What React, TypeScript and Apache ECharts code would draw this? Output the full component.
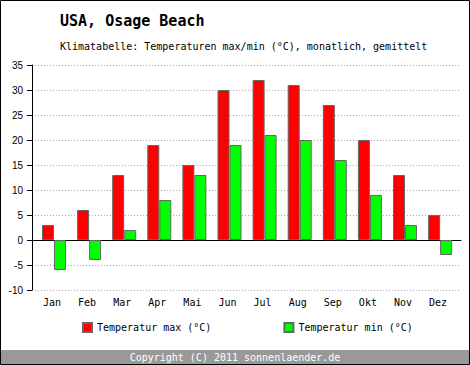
import React, { useEffect, useRef } from 'react';
import * as echarts from 'echarts';

const months = ['Jan', 'Feb', 'Mar', 'Apr', 'Mai', 'Jun', 'Jul', 'Aug', 'Sep', 'Okt', 'Nov', 'Dez'];
const tempMax = [3, 6, 13, 19, 15, 30, 32, 31, 27, 20, 13, 5];
const tempMin = [-6, -4, 2, 8, 13, 19, 21, 20, 16, 9, 3, -3];
const yMin = -10;
const yMax = 35;
const yInterval = 5;

const MONO = "'DejaVu Sans Mono', 'Liberation Mono', monospace";
const SANS = "'Liberation Sans', Arial, sans-serif";

export default function App() {
  const ref = useRef<HTMLDivElement>(null);

  useEffect(() => {
    if (!ref.current) return;
    const chart = echarts.init(ref.current, null, { renderer: 'svg' });
    const option: any = {
      animation: false,
      backgroundColor: '#ffffff',
      title: [
        {
          text: 'USA, Osage Beach',
          left: 60,
          top: 13,
          padding: 0,
          textStyle: { fontFamily: MONO, fontSize: 15, fontWeight: 'bold', color: '#000' },
        },
        {
          text: 'Klimatabelle: Temperaturen max/min (°C), monatlich, gemittelt',
          left: 60,
          top: 41,
          padding: 0,
          textStyle: { fontFamily: MONO, fontSize: 10, fontWeight: 'normal', color: '#000' },
        },
      ],
      legend: {
        left: 82,
        top: 322,
        padding: 0,
        itemWidth: 9,
        itemHeight: 9,
        itemGap: 72,
        icon: 'rect',
        textStyle: { fontFamily: MONO, fontSize: 10, color: '#000' },
        data: ['Temperatur max (°C)', 'Temperatur min (°C)'],
      },
      grid: [
        { left: 32, top: 65, width: 429, height: 225, containLabel: false },
        { left: 36.45, top: 65, width: 421.2, height: 225, containLabel: false },
      ],
      xAxis: [
        {
          type: 'category',
          gridIndex: 0,
          data: months,
          axisLine: { show: true, onZero: true, lineStyle: { color: '#000', width: 1 } },
          axisTick: { show: false },
          axisLabel: { show: false },
          splitLine: { show: false },
        },
        {
          type: 'category',
          gridIndex: 1,
          data: months,
          axisLine: { show: false },
          axisTick: { show: false },
          axisLabel: {
            show: true,
            margin: 7,
            fontFamily: MONO,
            fontSize: 10,
            color: '#000',
            padding: [0, 4, 0, 0],
          },
          splitLine: { show: false },
        },
      ],
      yAxis: [
        {
          type: 'value',
          gridIndex: 0,
          min: yMin,
          max: yMax,
          interval: yInterval,
          axisLine: { show: true, lineStyle: { color: '#000', width: 1 } },
          axisTick: { show: true, length: 5, lineStyle: { color: '#000' } },
          axisLabel: { margin: 9, fontFamily: SANS, fontSize: 10, color: '#000' },
          splitLine: { show: true, lineStyle: { color: '#aaaaaa', type: [1, 2], width: 1 } },
        },
        {
          type: 'value',
          gridIndex: 1,
          min: yMin,
          max: yMax,
          interval: yInterval,
          show: false,
          splitLine: { show: false },
        },
      ],
      series: [
        {
          name: 'Temperatur max (°C)',
          type: 'bar',
          xAxisIndex: 1,
          yAxisIndex: 1,
          data: tempMax,
          barWidth: 12,
          barGap: '0%',
          itemStyle: { color: '#ff0000', borderColor: '#666666', borderWidth: 1 },
        },
        {
          name: 'Temperatur min (°C)',
          type: 'bar',
          xAxisIndex: 1,
          yAxisIndex: 1,
          data: tempMin,
          barWidth: 12,
          barGap: '0%',
          itemStyle: { color: '#00ff00', borderColor: '#666666', borderWidth: 1 },
        },
      ],
      graphic: [
        {
          type: 'rect',
          shape: { x: 1, y: 350, width: 468, height: 14 },
          style: { fill: '#999999' },
          silent: true,
        },
        {
          type: 'text',
          x: 235,
          y: 357,
          style: {
            text: 'Copyright (C) 2011 sonnenlaender.de',
            fill: '#ffffff',
            font: `10px ${MONO}`,
            textAlign: 'center',
            textVerticalAlign: 'middle',
          },
          silent: true,
        },
        {
          type: 'rect',
          shape: { x: 0.5, y: 0.5, width: 469, height: 364 },
          style: { fill: 'none', stroke: '#000000', lineWidth: 1 },
          silent: true,
        },
      ],
    };
    chart.setOption(option);
    return () => chart.dispose();
  }, []);

  return (
    <div
      ref={ref}
      style={{ position: 'absolute', left: 0, top: 0, width: 470, height: 365 }}
    />
  );
}
